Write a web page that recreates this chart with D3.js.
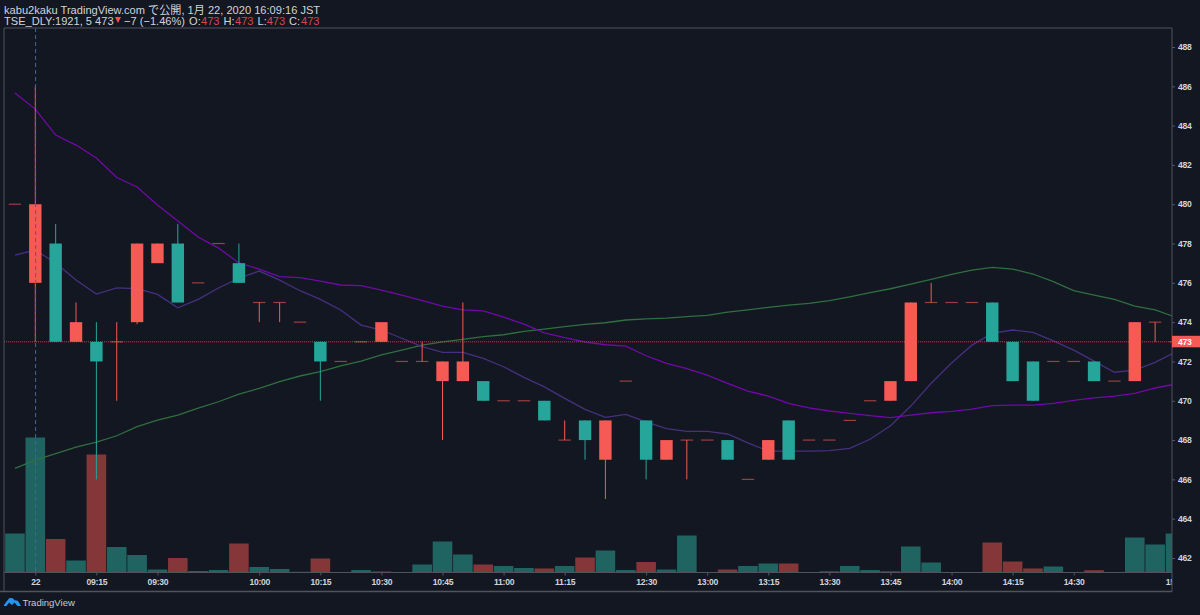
<!DOCTYPE html>
<html lang="ja">
<head>
  <meta charset="UTF-8">
  <title>TSE_DLY:1921, 5</title>
  <script src="https://d3js.org/d3.v7.min.js"></script>
  <style>
    html, body { margin: 0; background: #131722; overflow: hidden; }
    svg { display: block; }
    text { font-family: "Liberation Sans", "Noto Sans CJK JP", sans-serif; }
    .head { font-size: 11.1px; fill: #d1d4dc; }
    .axis text { font-size: 8.6px; font-weight: bold; letter-spacing: -0.25px; fill: #d1d4dc; }
    .axis line { stroke: #555860; }
    .axis path { display: none; }
  </style>
</head>
<body>
<svg width="1200" height="615"></svg>

<script>
// bar index -1 is the doji before the "22" session label
const barIndex = d3.range(-1, 57);

const opens = [480,476,478,473,473,473,474,477,478,476,478,477,475,475,474,473,472,473,473,472,472,471,471,471,470,470,470,468,469,467,471,469,467,468,468,468,466,467,469,468,468,469,470,470,471,475,475,475,475,473,472,472,472,472,471,471,474,473];
const closes = [480,480,473,474,472,473,478,478,475,476,478,476,475,475,474,472,472,473,474,472,472,472,472,470,470,470,469,468,468,469,471,467,468,468,468,467,466,468,467,468,468,469,470,471,475,475,475,475,473,471,470,472,472,471,471,474,474,473];
const highs = [480,486,479,475,474,474,478,478,479,476,478,478,475,475,474,473,472,473,474,472,473,472,475,471,470,470,470,469,469,469,471,469,468,468,468,468,466,468,469,468,468,469,470,471,475,476,475,475,475,473,472,472,472,472,471,474,474,473];
const lows = [480,473,473,473,466,470,473.9,477,475,476,478,476,474,474,474,470,472,473,473,472,472,468,471,470,470,470,469,468,467,465,471,466,467,466,468,467,466,467,467,468,468,469,470,470,471,475,475,475,473,471,470,472,472,471,471,471,473,473];

const volumes = [39,135,33.5,12,118,25.5,17.5,3,14.5,1.5,2.5,29,5.5,3.5,0.7,14,0.3,2.5,1,0,8,31,18,8,6.5,4.5,4,6.5,15,22,2.5,10.5,3,37,0,3,6.5,9,9,0,1.2,6.5,2.5,1.2,26,10,0.5,0.5,30,11,4,6,0,2.3,0.5,35,28,39];
const volumeRed = [0,0,1,0,1,0,0,0,1,0,0,1,0,0,0,1,1,0,0,0,0,0,0,1,0,0,1,0,1,0,0,1,0,0,0,1,0,0,1,0,0,0,0,0,0,0,0,0,1,1,1,0,0,1,0,0,0,0];

const maFast = [477.41,477.67,477.01,476.14,475.43,475.74,475.71,475.41,474.73,475.16,475.74,476.24,476.60,476.14,475.60,475.16,474.62,473.85,473.60,473.18,472.75,472.46,472.46,472.16,471.73,471.19,470.71,470.12,469.56,469.16,469.31,468.93,468.58,468.44,468.44,468.31,467.86,467.44,467.44,467.44,467.46,467.58,468.04,468.73,469.73,470.89,471.92,472.83,473.43,473.60,473.48,473.05,472.58,472.02,471.45,471.56,471.95,472.48];
const maMid = [485.66,484.84,483.52,483.01,482.35,481.36,480.88,479.96,479.15,478.33,477.77,477.01,476.70,476.32,476.27,476.09,475.89,475.86,475.63,475.38,475.09,474.82,474.62,474.57,474.26,473.90,473.45,473.21,472.99,472.85,472.78,472.29,471.90,471.63,471.31,470.89,470.49,470.24,469.87,469.64,469.48,469.36,469.24,469.14,469.27,469.39,469.46,469.58,469.75,469.78,469.78,469.87,470.02,470.15,470.24,470.38,470.65,470.85];
const maSlow = [466.56,466.98,467.31,467.64,467.90,468.22,468.68,469.02,469.27,469.63,469.95,470.34,470.63,470.97,471.26,471.48,471.78,472.02,472.33,472.58,472.83,473.00,473.12,473.26,473.36,473.53,473.65,473.77,473.89,473.97,474.11,474.17,474.21,474.28,474.35,474.51,474.63,474.75,474.87,474.96,475.09,475.29,475.50,475.70,475.94,476.18,476.43,476.65,476.79,476.70,476.45,476.06,475.60,475.38,475.16,474.82,474.62,474.26];

const priceTicks = d3.range(462, 490, 2);
const timeTickIndex = [0,3,6,11,14,17,20,23,26,30,33,36,39,42,45,48,51,56];
const timeTickLabels = ["22","09:15","09:30","10:00","10:15","10:30","10:45","11:00","11:15","12:30","13:00","13:15","13:30","13:45","14:00","14:15","14:30","15:00"];

const lastPrice = 473;
const crosshairBar = 0;

const svg = d3.select("svg");
const frame = {left: 4, right: 1172, top: 28, base: 572.5, bottom: 591.5};

const x = d3.scaleLinear().domain([0, 56]).range([35.3, 1175.5]);
const y = d3.scaleLinear().domain([488, 462]).range([47, 558]);
const vol = d3.scaleLinear().domain([0, 135]).range([frame.base, frame.base - 135]);

const red = "#f55a55", teal = "#26a69a";
const bars = barIndex.map((d, i) => ({i: d, o: opens[i], c: closes[i], h: highs[i], l: lows[i]}));

const defs = svg.append("defs");
defs.append("clipPath").attr("id", "plot").append("rect")
  .attr("x", frame.left).attr("y", frame.top)
  .attr("width", frame.right - frame.left).attr("height", frame.base - frame.top);
defs.append("clipPath").attr("id", "timeclip").append("rect")
  .attr("x", 0).attr("y", frame.base).attr("width", frame.right).attr("height", 20);

const plot = svg.append("g").attr("clip-path", "url(#plot)");

// volume
plot.selectAll("rect.vol")
  .data(barIndex.map((d, i) => ({i: d, v: volumes[i], up: volumeRed[i]})))
  .enter().append("rect")
  .attr("class", "vol")
  .attr("x", d => x(d.i) - 9.8)
  .attr("width", 19.6)
  .attr("y", d => vol(d.v))
  .attr("height", d => frame.base - vol(d.v))
  .attr("fill", d => d.up ? "#853639" : "#1f6460");

// moving averages sit behind the candles
const line = d3.line().x((d, i) => x(barIndex[i])).y(d => y(d));
[[maSlow, "#2f6f40"], [maFast, "#46307f"], [maMid, "#7209a8"]].forEach(([s, c]) => {
  plot.append("path").attr("d", line(s)).attr("fill", "none").attr("stroke", c).attr("stroke-width", 1.3);
});

// last price line
plot.append("line")
  .attr("x1", frame.left).attr("x2", frame.right)
  .attr("y1", y(lastPrice)).attr("y2", y(lastPrice))
  .attr("stroke", "#b0484c").attr("stroke-dasharray", "1 1");

// wicks
plot.selectAll("line.wick")
  .data(bars.filter(d => d.h > d.l))
  .enter().append("line")
  .attr("class", "wick")
  .attr("x1", d => x(d.i)).attr("x2", d => x(d.i))
  .attr("y1", d => y(d.h)).attr("y2", d => y(d.l))
  .attr("stroke", d => d.c < d.o ? teal : red);

// bodies, a doji is a flat dash
plot.selectAll("rect.body")
  .data(bars)
  .enter().append("rect")
  .attr("class", "body")
  .attr("x", d => x(d.i) - 6.2)
  .attr("width", 12.4)
  .attr("y", d => d.o === d.c ? y(d.o) - 0.6 : y(Math.max(d.o, d.c)))
  .attr("height", d => d.o === d.c ? 1.2 : Math.abs(y(d.o) - y(d.c)))
  .attr("fill", d => d.c < d.o ? teal : red)
  .attr("opacity", d => d.o === d.c ? 0.6 : 1);

// crosshair
svg.append("line")
  .attr("x1", x(crosshairBar) + 0.3).attr("x2", x(crosshairBar) + 0.3)
  .attr("y1", frame.top).attr("y2", frame.base)
  .attr("stroke", "#44659c").attr("stroke-dasharray", "4 3");

// axes
svg.append("g").attr("class", "axis")
  .attr("transform", `translate(${frame.right},0)`)
  .call(d3.axisRight(y).tickValues(priceTicks).tickFormat(d3.format("d")).tickSize(3).tickPadding(3));

// the last time label is cut by the price scale
svg.append("g").attr("clip-path", "url(#timeclip)")
  .append("g").attr("class", "axis")
  .attr("transform", `translate(0,${frame.base})`)
  .call(d3.axisBottom(x).tickValues(timeTickIndex)
    .tickFormat(d => timeTickLabels[timeTickIndex.indexOf(d)]).tickSize(3).tickPadding(3.5));

// frame
svg.append("path")
  .attr("d", `M${frame.left},${frame.bottom}V${frame.top}H${frame.right}V${frame.bottom}`)
  .attr("fill", "none").attr("stroke", "#50535b");
svg.append("line").attr("x1", frame.left).attr("x2", frame.right)
  .attr("y1", frame.base).attr("y2", frame.base).attr("stroke", "#50535b");
svg.append("line").attr("x1", 0).attr("x2", frame.right)
  .attr("y1", frame.bottom).attr("y2", frame.bottom).attr("stroke", "#50535b").attr("stroke-width", 1.5);

// last price tag
svg.append("rect").attr("x", frame.right).attr("y", y(lastPrice) - 6)
  .attr("width", 28).attr("height", 11.5).attr("fill", red);
svg.append("text").attr("x", frame.right + 6).attr("y", y(lastPrice) + 3)
  .attr("font-size", 8.6).attr("font-weight", "bold").attr("letter-spacing", "-0.25px").attr("fill", "#fff").text(lastPrice);

// header
svg.append("text").attr("class", "head").attr("x", 4).attr("y", 13.5)
  .text("kabu2kaku TradingView.com で公開, 1月 22, 2020 16:09:16 JST");
const h2 = svg.append("text").attr("class", "head").attr("y", 25);
h2.append("tspan").attr("x", 4).text("TSE_DLY:1921, 5 473");
h2.append("tspan").attr("x", 124).text("−7 (−1.46%)");
h2.append("tspan").attr("x", 189).text("O:");
h2.append("tspan").attr("x", 201).attr("fill", "#d9474a").text("473");
h2.append("tspan").attr("x", 223.5).text("H:");
h2.append("tspan").attr("x", 235).attr("fill", "#d9474a").text("473");
h2.append("tspan").attr("x", 257.5).text("L:");
h2.append("tspan").attr("x", 266.7).attr("fill", "#d9474a").text("473");
h2.append("tspan").attr("x", 289).text("C:");
h2.append("tspan").attr("x", 301).attr("fill", "#d9474a").text("473");
svg.append("path").attr("d", "M115,17H121L118,23Z").attr("fill", "#ef5350");

// TradingView logo
svg.append("path")
  .attr("d", "M4,605 L6.500,601.500 C8,600.500 8,598 11,598 C13,598 14,599 14.500,600.500 C16.500,600 18,601 19,602.500 L21,606 L17.500,606 L14.500,602.500 L12,605 L9,602.500 L6.500,606 L4,606 Z")
  .attr("fill", "#2196f3");
svg.append("text").attr("x", 22.5).attr("y", 606).attr("font-size", 9.5).attr("fill", "#c8cad0").text("TradingView");
</script>
</body>
</html>
